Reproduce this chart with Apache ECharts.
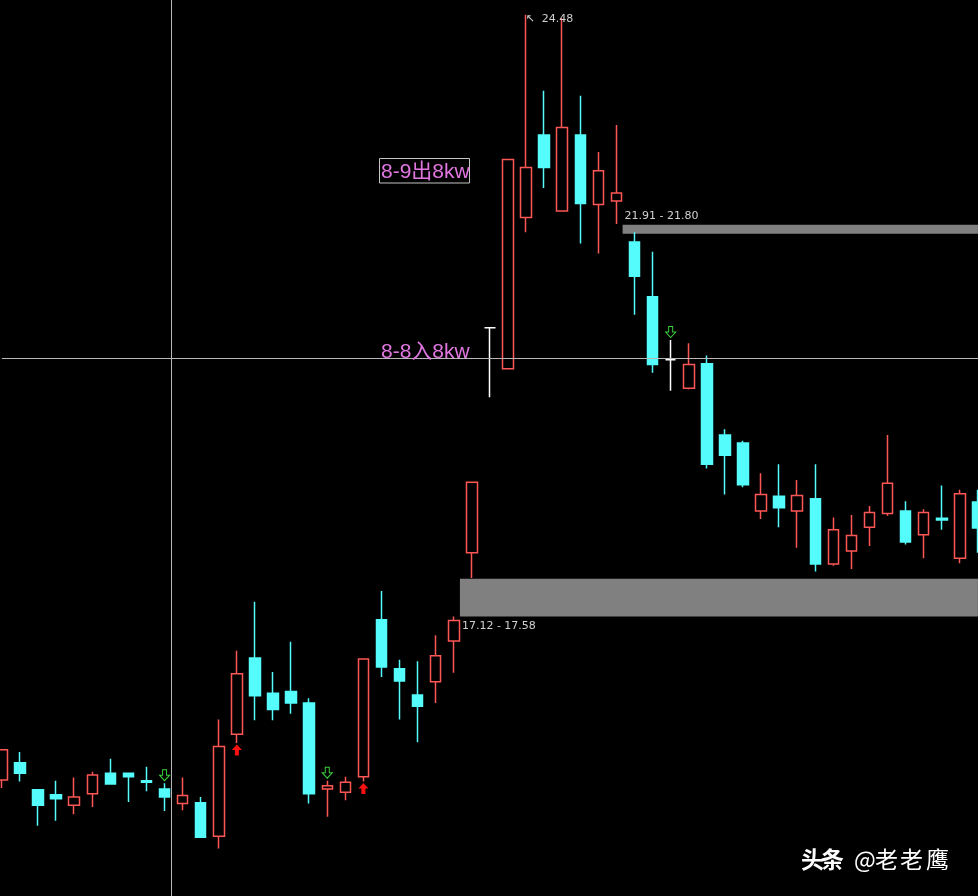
<!DOCTYPE html>
<html><head><meta charset="utf-8">
<script src="https://cdn.jsdelivr.net/npm/echarts@6/dist/echarts.min.js"></script>
<style>html,body{margin:0;padding:0;background:#000;overflow:hidden}#c{width:978px;height:896px}</style>
</head><body><div id="c"></div>
<script>
// ---- data ----
const days = Array.from({length: 55}, (_, i) => 'D' + (i + 1));
const openP  = [15.12,15.33,15.00,14.94,14.81,14.95,15.20,15.20,15.11,15.01,14.83,14.84,14.43,15.68,16.61,16.18,16.20,16.06,15.01,14.97,15.16,17.08,16.48,16.16,16.32,16.82,17.90,20.65,20.15,22.00,23.01,22.08,23.01,22.16,22.20,21.70,21.03,20.26,19.91,20.21,19.34,19.24,18.41,18.59,18.41,18.56,17.76,17.92,18.21,18.38,18.41,18.12,18.32,17.83,18.52];
const closeP = [15.49,15.20,14.81,14.89,14.91,15.18,15.07,15.16,15.09,14.91,14.93,14.42,15.53,16.42,16.15,15.98,16.06,14.95,15.05,15.09,16.60,16.50,16.33,16.02,16.64,17.07,18.76,20.65,22.71,22.61,22.61,23.10,22.17,22.57,22.30,21.28,20.20,20.26,20.20,18.98,19.09,18.73,18.61,18.45,18.60,17.76,18.18,18.11,18.39,18.75,18.03,18.39,18.30,18.62,18.20];
const lowP   = [15.02,15.10,14.56,14.62,14.70,14.79,15.06,14.85,14.98,14.74,14.75,14.41,14.28,15.57,15.85,15.85,15.93,14.83,14.67,14.87,15.10,16.38,15.86,15.58,16.06,16.43,17.59,19.80,20.15,21.82,22.36,22.08,21.68,21.56,21.92,20.81,20.10,19.88,19.90,18.93,18.61,18.70,18.31,18.21,17.96,17.67,17.74,17.70,17.98,18.35,18.00,17.83,18.18,17.77,17.90];
const highP  = [15.49,15.46,15.00,15.11,15.15,15.22,15.38,15.20,15.28,15.08,15.15,14.91,15.86,16.70,17.30,16.44,16.81,16.12,15.11,15.16,16.60,17.43,16.59,16.57,16.89,17.12,18.76,20.65,22.71,24.48,23.55,24.44,23.49,22.80,23.13,21.82,21.58,20.50,20.46,20.31,19.41,19.27,18.87,18.98,18.79,18.98,18.33,18.36,18.47,19.34,18.53,18.43,18.72,18.67,18.67];
const whiteDays = [27, 37];          // flat candles drawn in white
const sellSignals = [9, 18, 37];      // green hollow down arrows
const buySignals = [13, 20];          // red up arrows
const zoneStart = [25.34, 34.34];
const zoneLow   = [17.12, 21.80];
const zoneHigh  = [17.58, 21.91];
const zoneText  = ['17.12 - 17.58', '21.91 - 21.80'];
const peakDay = 29;
const crossDay = 9.36, crossPrice = 20.28;
const noteOut = '8-9出8kw', noteIn = '8-8入8kw';
const watermarkChars = ['头', '条', '@', '老', '老', '鹰'];

// ---- style ----
const RED = '#ff5656', CYAN = '#54fcfc';
const chart = echarts.init(document.getElementById('c'), null, {renderer: 'canvas'});
const lastIdx = days.length - 1;
const candles = days.map((d, i) => {
  const item = {value: [openP[i], closeP[i], lowP[i], highP[i]]};
  if (whiteDays.includes(i)) item.itemStyle = {color: '#fff', color0: '#fff', borderColor: '#fff', borderColor0: '#fff', borderColorDoji: '#fff'};
  return item;
});
const downArrow = 'path://M3,0 L7,0 L7,5 L10,5 L5,10 L0,5 L3,5 Z';
const upArrow = 'path://M5,0 L10,5 L7,5 L7,10 L3,10 L3,5 L0,5 Z';
const marks = [];
sellSignals.forEach(i => marks.push({coord: [i, highP[i]], symbol: downArrow, symbolSize: [10, 11], symbolOffset: [0, -8],
  itemStyle: {color: 'rgba(0,0,0,0)', borderColor: '#3bd23b', borderWidth: 1}, label: {show: false}}));
buySignals.forEach(i => marks.push({coord: [i, lowP[i]], symbol: upArrow, symbolSize: [10, 11], symbolOffset: [0, 7],
  itemStyle: {color: '#ff1010', borderWidth: 0}, label: {show: false}}));
marks.push({coord: [peakDay, highP[peakDay]], symbol: 'rect', symbolSize: 1, itemStyle: {color: 'rgba(0,0,0,0)'},
  label: {show: true, position: [0, 0], align: 'left', verticalAlign: 'top', offset: [0, -1], formatter: '↖  ' + highP[peakDay].toFixed(2),
    color: '#d0d0d0', fontSize: 11, fontFamily: 'DejaVu Sans'}});

const wmX = [801, 821, 854, 875, 900, 926];
const wmGraphics = watermarkChars.map((ch, k) => ({
  type: 'text', x: wmX[k], y: 859, z: 10,
  style: {text: ch, fill: '#fff', font: (k < 2 ? 'bold ' : '') + '23px "Noto Sans CJK SC"', textVerticalAlign: 'middle'}
}));

const option = {
  backgroundColor: '#000',
  animation: false,
  grid: {left: 1.9, right: 0.05, top: 0, bottom: 0, containLabel: false},
  xAxis: [
    {type: 'category', data: days, show: false, boundaryGap: false},
    {type: 'value', min: 0, max: lastIdx, show: false}
  ],
  yAxis: {type: 'value', min: 13.70, max: 24.66, show: false, splitLine: {show: false}},
  series: [
    {
      type: 'line', xAxisIndex: 1, data: [], silent: true, clip: false,
      markArea: {
        silent: true,
        itemStyle: {color: '#808080'},
        data: zoneStart.map((s, k) => [
          {coord: [s, zoneHigh[k]], label: {show: true, formatter: zoneText[k], color: '#d0d0d0', fontSize: 11, fontFamily: 'DejaVu Sans',
            position: k === 0 ? [2, '100%'] : [2, 0], align: 'left', verticalAlign: k === 0 ? 'top' : 'bottom', offset: k === 0 ? [0, 4] : [0, -3]}},
          {coord: [lastIdx + 1, zoneLow[k]]}
        ])
      },
      markLine: {
        silent: true, symbol: ['none', 'none'],
        lineStyle: {color: '#b8b8b8', width: 1, type: 'solid'},
        label: {show: false},
        data: [{xAxis: crossDay}, {yAxis: crossPrice}]
      }
    },
    {
      type: 'candlestick', data: candles, barWidth: 11, clip: false,
      itemStyle: {color: '#000', color0: CYAN, borderColor: RED, borderColor0: CYAN, borderColorDoji: RED, borderWidth: 1.5},
      markPoint: {silent: true, data: marks}
    }
  ],
  graphic: [
    {type: 'rect', shape: {x: 379.5, y: 158.5, width: 90, height: 24.5}, style: {fill: 'none', stroke: '#c4c4c4', lineWidth: 1}, z: 10},
    {type: 'text', x: 381, y: 172, style: {text: noteOut, fill: '#e277e2', font: '21px "Liberation Sans", "Noto Sans CJK SC"', textVerticalAlign: 'middle'}, z: 10},
    {type: 'text', x: 381, y: 352, style: {text: noteIn, fill: '#e277e2', font: '21px "Liberation Sans", "Noto Sans CJK SC"', textVerticalAlign: 'middle'}, z: 10}
  ].concat(wmGraphics)
};
chart.setOption(option);
</script></body></html>
